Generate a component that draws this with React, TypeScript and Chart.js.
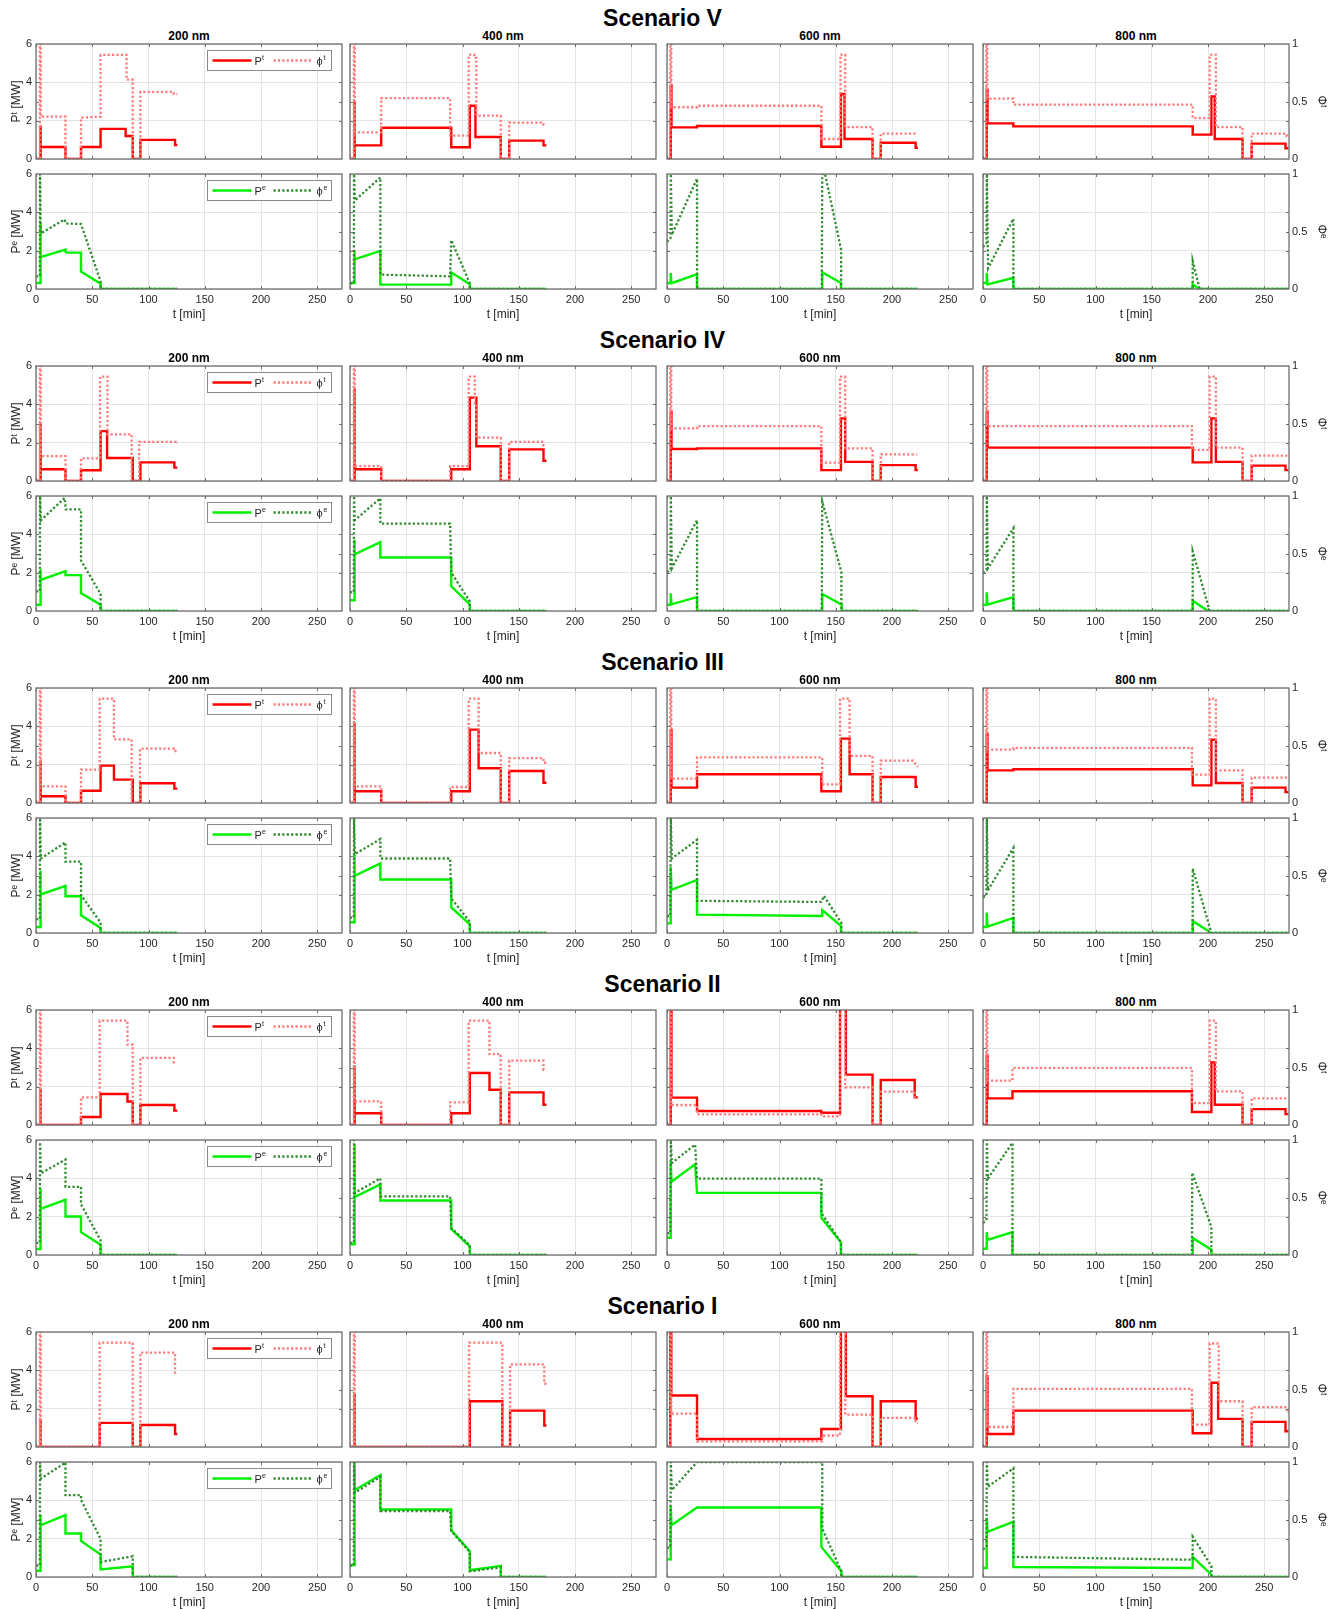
import React, { useEffect, useRef } from "react";
import { Chart, registerables } from "chart.js";
Chart.register(...registerables);

type XY = [number, number];

const FONT = "'Liberation Sans', Arial, Helvetica, sans-serif";
const SCENARIO_TITLES = ["Scenario V", "Scenario IV", "Scenario III", "Scenario II", "Scenario I"];
const COLUMN_TITLES = ["200 nm", "400 nm", "600 nm", "800 nm"];
const X_TICKS = [0, 50, 100, 150, 200, 250];
const P_TICKS = [0, 2, 4, 6];
const PHI_TICKS = [0, 0.5, 1];
const X_MAX = 272;

// ---------- Scenario V ----------
const V200_Pt: XY[] = [[0,0],[3.6,0],[3.6,1.75],[4.3,1.75],[4.3,0.63],[26.2,0.63],[26.2,0],[40,0],[40,0.63],[57.4,0.63],[57.4,1.57],[79.7,1.57],[79.7,1.2],[86,1.2],[86,0],[92.8,0],[92.8,1.0],[123.6,1.0],[123.6,0.73],[125.6,0.73]];
const V200_Ft: XY[] = [[0,0],[3.4,0],[3.4,1],[4.2,1],[4.2,0.368],[26.2,0.368],[26.2,0],[40,0],[40,0.36],[57.4,0.368],[57.4,0.905],[80.5,0.905],[80.5,0.69],[86,0.69],[86,0],[92.8,0],[92.8,0.583],[122.5,0.583],[122.5,0.565],[125.6,0.565]];
const V200_Pe: XY[] = [[0,0.31],[3.8,0.31],[3.8,3.4],[4.3,1.66],[26.2,2.06],[26.2,1.95],[27,1.9],[40,1.9],[40,0.91],[57.4,0.28],[57.4,0],[125.6,0]];
const V200_Fe: XY[] = [[0,0.11],[3.4,0.11],[3.6,1],[4.2,0.483],[25.4,0.605],[26.5,0.57],[40,0.565],[57.4,0.067],[57.4,0],[125.6,0]];

const V400_Pt: XY[] = [[0,0],[3.6,0],[3.6,3.0],[4.3,3.0],[4.3,0.71],[27.7,0.71],[27.7,1.63],[90,1.63],[90,0.61],[106.5,0.61],[106.5,2.78],[111.5,2.78],[111.5,1.15],[134,1.15],[134,0],[141.5,0],[141.5,0.96],[172,0.96],[172,0.71],[174.6,0.71]];
const V400_Ft: XY[] = [[0,0],[3.4,0],[3.4,1],[4.2,1],[4.2,0.232],[27.7,0.232],[27.7,0.53],[89,0.53],[89,0.203],[105.5,0.203],[105.5,0.907],[110.4,0.907],[110.4,0.88],[112.3,0.88],[112.3,0.377],[134,0.377],[134,0],[141.5,0],[141.5,0.316],[172,0.316],[172,0.3],[174.6,0.3]];
const V400_Pe: XY[] = [[0,0.31],[3.8,0.31],[3.8,2.02],[4.3,1.55],[27,1.99],[27,0.23],[90,0.23],[90,0.87],[106.5,0.25],[106.5,0],[174.6,0]];
const V400_Fe: XY[] = [[0,0.05],[3.4,0.05],[3.6,1],[4.3,0.77],[27,0.97],[27,0.125],[89,0.11],[90,0.425],[106.5,0.05],[106.5,0],[174.6,0]];

const V600_Pt: XY[] = [[0,0],[3.3,0],[3.3,3.83],[4,3.83],[4,1.65],[26.7,1.65],[26.7,1.72],[137.2,1.72],[137.2,0.64],[154.6,0.64],[154.6,3.39],[157.8,3.39],[157.8,1.04],[182.7,1.04],[182.7,0],[190,0],[190,0.85],[221,0.85],[221,0.59],[223,0.59]];
const V600_Ft: XY[] = [[0,0],[2.9,0],[2.9,1],[3.8,1],[3.8,0.45],[26.7,0.45],[26.7,0.463],[137.2,0.463],[137.2,0.174],[154.2,0.174],[154.2,0.907],[158.4,0.907],[158.4,0.278],[182.7,0.278],[182.7,0],[190,0],[190,0.22],[222,0.22]];
const V600_Pe: XY[] = [[0,0.31],[3.3,0.31],[3.3,0.84],[4,0.3],[26.7,0.77],[26.7,0],[138,0],[138,0.87],[154.6,0.31],[154.6,0],[223,0]];
const V600_Fe: XY[] = [[0,0.41],[3.1,0.44],[3.4,1],[4.3,0.47],[26.7,0.96],[26.7,0],[137.6,0],[138,1],[140.5,1],[154.8,0.34],[154.8,0],[223,0]];

const V800_Pt: XY[] = [[0,0],[3.3,0],[3.3,3.62],[4,3.62],[4,1.86],[27,1.86],[27,1.7],[186.4,1.7],[186.4,1.27],[203,1.27],[203,3.27],[206,3.27],[206,1.04],[230.7,1.04],[230.7,0],[238.8,0],[238.8,0.8],[268.9,0.8],[268.9,0.56],[271.5,0.56]];
const V800_Ft: XY[] = [[0,0],[2.9,0],[2.9,1],[3.8,1],[3.8,0.525],[27,0.525],[27,0.472],[186.4,0.472],[186.4,0.356],[201.5,0.356],[201.5,0.907],[207,0.907],[207,0.278],[230.7,0.278],[230.7,0],[238.8,0],[238.8,0.22],[270,0.22],[270,0.2],[271.5,0.2]];
const V800_Pe: XY[] = [[0,0.31],[3.3,0.31],[3.3,0.84],[4,0.24],[27,0.58],[27,0],[186.4,0],[186.4,0.24],[192,0],[271.5,0]];
const V800_Fe: XY[] = [[0,0.366],[3.1,0.4],[3.4,1],[4.5,0.18],[27,0.61],[27,0],[186.4,0],[186.4,0.245],[192.6,0],[271.5,0]];

// ---------- Scenario IV ----------
const IV200_Pt: XY[] = [[0,0],[3.6,0],[3.6,3.0],[4.3,3.0],[4.3,0.61],[26.2,0.61],[26.2,0],[40,0],[40,0.56],[57.4,0.56],[57.4,2.6],[63.2,2.6],[63.2,1.2],[86,1.2],[86,0],[92.8,0],[92.8,0.97],[123,0.97],[123,0.7],[125.6,0.7]];
const IV200_Ft: XY[] = [[0,0],[3.4,0],[3.4,1],[4.2,1],[4.2,0.217],[26.2,0.217],[26.2,0],[40,0],[40,0.197],[57,0.197],[57,0.907],[63.5,0.907],[63.5,0.406],[85,0.406],[85,0],[91.7,0],[91.7,0.34],[124,0.34],[124,0.325],[125.6,0.325]];
const IV200_Pe: XY[] = [[0,0.33],[3.8,0.33],[3.8,2.18],[4.3,1.62],[26.2,2.08],[26.2,1.87],[40,1.87],[40,0.94],[57.4,0.33],[57.4,0],[125.6,0]];
const IV200_Fe: XY[] = [[0,0.17],[3.4,0.17],[3.6,1],[4.3,0.788],[25.4,0.983],[26.5,0.883],[40,0.883],[40,0.44],[57.4,0.148],[57.4,0],[125.6,0]];

const IV400_Pt: XY[] = [[0,0],[3.6,0],[3.6,4.8],[4.3,4.8],[4.3,0.61],[27.7,0.61],[27.7,0],[90,0],[90,0.61],[106.5,0.61],[106.5,4.35],[112.3,4.35],[112.3,1.81],[134,1.81],[134,0],[141.5,0],[141.5,1.65],[172,1.65],[172,1.06],[174.6,1.06]];
const IV400_Ft: XY[] = [[0,0],[3.4,0],[3.4,1],[4.2,1],[4.2,0.13],[27.7,0.13],[27.7,0],[89,0],[89,0.13],[105.5,0.13],[105.5,0.907],[111,0.907],[111,0.68],[112.3,0.68],[112.3,0.377],[134,0.377],[134,0],[141.5,0],[141.5,0.34],[172,0.34],[172,0.31],[174.6,0.31]];
const IV400_Pe: XY[] = [[0,0.56],[3.8,0.56],[3.8,3.72],[4.3,2.95],[27,3.59],[27,2.79],[90,2.79],[90,1.29],[106.5,0.35],[106.5,0],[174.6,0]];
const IV400_Fe: XY[] = [[0,0.163],[3.4,0.163],[3.6,1],[4.3,0.79],[27,0.98],[27,0.76],[89,0.76],[90,0.335],[106.5,0.083],[106.5,0],[174.6,0]];

const IV600_Pt: XY[] = [[0,0],[3.3,0],[3.3,3.62],[4,3.62],[4,1.67],[26.7,1.67],[26.7,1.7],[137.2,1.7],[137.2,0.57],[154.6,0.57],[154.6,3.27],[158.4,3.27],[158.4,1.0],[182.7,1.0],[182.7,0],[190,0],[190,0.83],[221,0.83],[221,0.57],[223,0.57]];
const IV600_Ft: XY[] = [[0,0],[2.9,0],[2.9,1],[3.8,1],[3.8,0.458],[26.7,0.458],[26.7,0.478],[137.2,0.478],[137.2,0.16],[153.8,0.16],[153.8,0.907],[158.4,0.907],[158.4,0.284],[182.7,0.284],[182.7,0],[190,0],[190,0.232],[222,0.232]];
const IV600_Pe: XY[] = [[0,0.33],[3.3,0.33],[3.3,0.92],[4,0.35],[26.7,0.72],[26.7,0],[138,0],[138,0.89],[155.3,0.33],[155.3,0],[223,0]];
const IV600_Fe: XY[] = [[0,0.337],[3.1,0.36],[3.4,1],[4.3,0.37],[26.7,0.79],[26.7,0],[137.6,0],[138,0.953],[155,0.34],[155,0],[223,0]];

const IV800_Pt: XY[] = [[0,0],[3.3,0],[3.3,3.62],[4,3.62],[4,1.74],[186.4,1.74],[186.4,0.97],[203,0.97],[203,3.27],[207,3.27],[207,1.0],[230.7,1.0],[230.7,0],[238.8,0],[238.8,0.8],[268.9,0.8],[268.9,0.57],[271.5,0.57]];
const IV800_Ft: XY[] = [[0,0],[2.9,0],[2.9,1],[3.8,1],[3.8,0.478],[185.7,0.478],[185.7,0.27],[201.5,0.27],[201.5,0.907],[207,0.907],[207,0.29],[230.7,0.29],[230.7,0],[238.8,0],[238.8,0.22],[271.5,0.22]];
const IV800_Pe: XY[] = [[0,0.33],[3.3,0.33],[3.3,0.98],[4,0.33],[27,0.72],[27,0],[186.4,0],[186.4,0.54],[200,0],[271.5,0]];
const IV800_Fe: XY[] = [[0,0.33],[3.1,0.36],[3.4,1],[4.3,0.37],[27,0.72],[27,0],[186.4,0],[186.4,0.52],[201.5,0],[271.5,0]];

// ---------- Scenario III ----------
const III200_Pt: XY[] = [[0,0],[3.6,0],[3.6,2.22],[4.3,2.22],[4.3,0.35],[26.2,0.35],[26.2,0],[40,0],[40,0.64],[57.4,0.64],[57.4,1.95],[69.3,1.95],[69.3,1.22],[86,1.22],[86,0],[92.8,0],[92.8,1.03],[123,1.03],[123,0.75],[125.6,0.75]];
const III200_Ft: XY[] = [[0,0],[3.4,0],[3.4,1],[4.2,1],[4.2,0.145],[26.2,0.145],[26.2,0],[40,0],[40,0.29],[56.6,0.29],[56.6,0.907],[69.3,0.907],[69.3,0.553],[85,0.553],[85,0],[92.4,0],[92.4,0.472],[122.5,0.472],[122.5,0.452],[125.6,0.452]];
const III200_Pe: XY[] = [[0,0.31],[3.8,0.31],[3.8,3.24],[4.3,2.01],[26.2,2.46],[26.2,1.92],[40,1.92],[40,0.92],[57.4,0.26],[57.4,0],[125.6,0]];
const III200_Fe: XY[] = [[0,0.12],[3.4,0.12],[3.6,1],[4.3,0.648],[26.2,0.788],[26.2,0.62],[40,0.62],[40,0.33],[57.4,0.09],[57.4,0],[125.6,0]];

const III400_Pt: XY[] = [[0,0],[3.6,0],[3.6,4.23],[4.3,4.23],[4.3,0.61],[27.7,0.61],[27.7,0],[90,0],[90,0.61],[106.5,0.61],[106.5,3.83],[114.3,3.83],[114.3,1.81],[134,1.81],[134,0],[141.5,0],[141.5,1.67],[172,1.67],[172,1.06],[174.6,1.06]];
const III400_Ft: XY[] = [[0,0],[3.4,0],[3.4,1],[4.2,1],[4.2,0.145],[27.7,0.145],[27.7,0],[89,0],[89,0.139],[105.5,0.139],[105.5,0.907],[114.3,0.907],[114.3,0.435],[134,0.435],[134,0],[141.5,0],[141.5,0.39],[172,0.39],[172,0.35],[174.6,0.35]];
const III400_Pe: XY[] = [[0,0.56],[3.8,0.56],[3.8,4.1],[4.3,2.98],[27,3.63],[27,2.79],[90,2.79],[90,1.33],[106.5,0.45],[106.5,0],[174.6,0]];
const III400_Fe: XY[] = [[0,0.134],[3.4,0.134],[3.6,1],[4.3,0.686],[27,0.817],[27,0.648],[89,0.648],[90,0.3],[106.5,0.098],[106.5,0],[174.6,0]];

const III600_Pt: XY[] = [[0,0],[3.3,0],[3.3,3.8],[4,3.8],[4,0.8],[26.7,0.8],[26.7,1.5],[137.2,1.5],[137.2,0.61],[154.6,0.61],[154.6,3.36],[162.3,3.36],[162.3,1.5],[182.7,1.5],[182.7,0],[190,0],[190,1.36],[221,1.36],[221,0.85],[223,0.85]];
const III600_Ft: XY[] = [[0,0],[2.9,0],[2.9,1],[3.8,1],[3.8,0.212],[26.7,0.212],[26.7,0.397],[138,0.397],[138,0.162],[153.8,0.162],[153.8,0.907],[162.3,0.907],[162.3,0.409],[182.7,0.409],[182.7,0],[190,0],[190,0.368],[219,0.368],[223,0.313]];
const III600_Pe: XY[] = [[0,0.5],[3.3,0.5],[3.3,3.45],[4,2.25],[26.7,2.77],[26.7,0.96],[138,0.89],[138,1.19],[154.6,0.37],[154.6,0],[223,0]];
const III600_Fe: XY[] = [[0,0.148],[2.9,0.148],[3.4,1],[4.3,0.648],[26.7,0.81],[26.7,0.28],[137.2,0.27],[139.5,0.323],[155,0.087],[155,0],[223,0]];

const III800_Pt: XY[] = [[0,0],[3.3,0],[3.3,3.62],[4,3.62],[4,1.7],[27,1.7],[27,1.76],[186.4,1.76],[186.4,0.92],[203,0.92],[203,3.3],[207,3.3],[207,1.04],[230.7,1.04],[230.7,0],[238.8,0],[238.8,0.8],[268.9,0.8],[268.9,0.57],[271.5,0.57]];
const III800_Ft: XY[] = [[0,0],[2.9,0],[2.9,1],[3.8,1],[3.8,0.464],[27,0.464],[27,0.48],[185.7,0.48],[185.7,0.246],[201.5,0.246],[201.5,0.907],[207,0.907],[207,0.284],[230.7,0.284],[230.7,0],[238.8,0],[238.8,0.22],[271.5,0.22]];
const III800_Pe: XY[] = [[0,0.31],[3.3,0.31],[3.3,1.07],[4,0.33],[27,0.79],[27,0],[186.4,0],[186.4,0.63],[203,0],[271.5,0]];
const III800_Fe: XY[] = [[0,0.308],[3.1,0.33],[3.4,1],[4.3,0.37],[27,0.74],[27,0],[186.4,0],[186.4,0.56],[203,0],[271.5,0]];

// ---------- Scenario II ----------
const II200_Pt: XY[] = [[0,0],[3.6,0],[3.6,1.91],[4.3,1.91],[4.3,0],[40,0],[40,0.42],[57.4,0.42],[57.4,1.62],[81.3,1.62],[81.3,1.23],[86,1.23],[86,0],[92.8,0],[92.8,1.04],[123,1.04],[123,0.75],[125.6,0.75]];
const II200_Ft: XY[] = [[0,0],[3.4,0],[3.4,1],[4.2,1],[4.2,0],[40,0],[40,0.24],[56.6,0.24],[56.6,0.907],[81.3,0.907],[81.3,0.699],[86,0.699],[86,0],[92.8,0],[92.8,0.583],[122.5,0.583],[122.5,0.545],[125.6,0.545]];
const II200_Pe: XY[] = [[0,0.31],[3.8,0.31],[3.8,3.45],[4.3,2.41],[26.2,2.88],[26.2,2.01],[40,2.01],[40,1.19],[57.4,0.54],[57.4,0],[125.6,0]];
const II200_Fe: XY[] = [[0,0.105],[3.4,0.105],[3.6,0.98],[4.3,0.71],[26.2,0.83],[26.2,0.593],[40,0.593],[40,0.44],[57.4,0.128],[57.4,0],[125.6,0]];

const II400_Pt: XY[] = [[0,0],[3.6,0],[3.6,3.1],[4.3,3.1],[4.3,0.61],[27.7,0.61],[27.7,0],[90,0],[90,0.61],[106.5,0.61],[106.5,2.71],[124,2.71],[124,1.84],[134,1.84],[134,0],[141.5,0],[141.5,1.7],[172,1.7],[172,1.06],[174.6,1.06]];
const II400_Ft: XY[] = [[0,0],[3.4,0],[3.4,1],[4.2,1],[4.2,0.206],[27.7,0.206],[27.7,0],[89,0],[89,0.197],[105.5,0.197],[105.5,0.907],[124,0.907],[124,0.617],[134,0.617],[134,0],[141.5,0],[141.5,0.56],[172,0.56],[172,0.48],[174.6,0.48]];
const II400_Pe: XY[] = [[0,0.56],[3.8,0.56],[3.8,5.78],[4.3,3.02],[27,3.68],[27,2.84],[90,2.84],[90,1.36],[106.5,0.45],[106.5,0],[174.6,0]];
const II400_Fe: XY[] = [[0,0.105],[3.4,0.105],[3.6,1],[4.3,0.54],[27,0.667],[27,0.51],[89,0.51],[90,0.235],[106.5,0.084],[106.5,0],[174.6,0]];

const II600_Pt: XY[] = [[0,0],[3.3,0],[3.3,6.6],[4,6.6],[4,1.43],[26.7,1.43],[26.7,0.73],[137.2,0.73],[137.2,0.64],[153.8,0.64],[153.8,6.6],[159,6.6],[159,2.63],[182.7,2.63],[182.7,0],[190,0],[190,2.35],[220.2,2.35],[220.2,1.44],[223,1.44]];
const II600_Ft: XY[] = [[0,0],[2.9,0],[2.9,1.1],[3.8,1.1],[3.8,0.174],[26.7,0.174],[26.7,0.093],[137.2,0.093],[137.2,0.075],[153.8,0.075],[153.8,1.1],[158.4,1.1],[158.4,0.328],[182.7,0.328],[182.7,0],[190,0],[190,0.29],[220.2,0.29],[220.2,0.24],[223,0.24]];
const II600_Pe: XY[] = [[0,0.9],[3.3,0.9],[3.3,4.9],[4,3.82],[25,4.73],[26.7,3.24],[137.2,3.24],[137.2,1.94],[154.6,0.66],[154.6,0],[223,0]];
const II600_Fe: XY[] = [[0,0.19],[2.9,0.19],[3.4,1],[4.3,0.8],[25,0.96],[26.7,0.665],[137.2,0.665],[137.2,0.366],[154.6,0.11],[154.6,0],[223,0]];

const II800_Pt: XY[] = [[0,0],[3.3,0],[3.3,3.62],[4,3.62],[4,1.39],[26.2,1.39],[26.2,1.76],[185.7,1.76],[185.7,0.68],[203,0.68],[203,3.27],[206,3.27],[206,1.06],[230.7,1.06],[230.7,0],[238.8,0],[238.8,0.83],[268.9,0.83],[268.9,0.57],[271.5,0.57]];
const II800_Ft: XY[] = [[0,0],[2.9,0],[2.9,1],[3.8,1],[3.8,0.386],[26.2,0.386],[26.2,0.496],[185.7,0.496],[185.7,0.19],[201.5,0.19],[201.5,0.907],[207,0.907],[207,0.293],[230.7,0.293],[230.7,0],[238.8,0],[238.8,0.232],[271.5,0.232]];
const II800_Pe: XY[] = [[0,0.33],[3.3,0.33],[3.3,1.19],[4,0.79],[26.2,1.19],[26.2,0],[186.4,0],[186.4,0.89],[203,0.28],[203,0],[271.5,0]];
const II800_Fe: XY[] = [[0,0.28],[3.1,0.3],[3.4,1],[4.3,0.665],[26.2,0.975],[26.2,0],[185.7,0],[186,0.715],[203,0.245],[203,0],[271.5,0]];

// ---------- Scenario I ----------
const I200_Pt: XY[] = [[0,0],[3.6,0],[3.6,1.48],[4.3,1.48],[4.3,0],[56.6,0],[56.6,1.26],[86,1.26],[86,0],[92.8,0],[92.8,1.15],[123.6,1.15],[123.6,0.68],[125.6,0.68]];
const I200_Ft: XY[] = [[0,0],[3.4,0],[3.4,1],[4.2,1],[4.2,0],[56.6,0],[56.6,0.907],[86,0.907],[86,0],[92.8,0],[92.8,0.82],[123.6,0.82],[123.6,0.637],[125.6,0.637]];
const I200_Pe: XY[] = [[0,0.33],[3.8,0.33],[3.8,3.23],[4.3,2.7],[26.2,3.23],[26.2,2.27],[40,2.27],[40,1.88],[57.4,1.17],[57.4,0.4],[86,0.56],[86,0],[125.6,0]];
const I200_Fe: XY[] = [[0,0.1],[3.4,0.1],[3.6,1],[4.3,0.855],[26.2,0.995],[26.2,0.712],[40,0.712],[40,0.67],[57.4,0.333],[57.4,0.13],[86,0.18],[86,0],[125.6,0]];

const I400_Pt: XY[] = [[0,0],[3.6,0],[3.6,2.8],[4.3,2.8],[4.3,0],[106.5,0],[106.5,2.39],[135.4,2.39],[135.4,0],[142.3,0],[142.3,1.9],[172.7,1.9],[172.7,1.12],[174.6,1.12]];
const I400_Ft: XY[] = [[0,0],[3.4,0],[3.4,1],[4.2,1],[4.2,0],[105.8,0],[105.8,0.907],[135.4,0.907],[135.4,0],[142.3,0],[142.3,0.718],[172.7,0.718],[172.7,0.55],[174.6,0.55]];
const I400_Pe: XY[] = [[0,0.63],[3.8,0.63],[3.8,6.0],[4.3,4.53],[27,5.32],[27,3.52],[90,3.52],[90,2.44],[106.5,1.34],[106.5,0.35],[134,0.58],[134,0],[174.6,0]];
const I400_Fe: XY[] = [[0,0.1],[3.4,0.1],[3.6,1],[4.3,0.733],[27,0.872],[27,0.574],[89,0.574],[90,0.4],[106.5,0.217],[106.5,0.05],[134,0.083],[134,0],[174.6,0]];

const I600_Pt: XY[] = [[0,0],[2.9,0],[2.9,6.6],[3.8,6.6],[3.8,2.69],[26.7,2.69],[26.7,0.42],[137.2,0.42],[137.2,0.94],[154.6,0.94],[154.6,6.6],[159,6.6],[159,2.65],[182.7,2.65],[182.7,0],[190,0],[190,2.39],[221,2.39],[221,1.48],[223,1.48]];
const I600_Ft: XY[] = [[0,0],[2.9,0],[2.9,1.1],[3.8,1.1],[3.8,0.29],[26.7,0.29],[26.7,0.05],[138,0.05],[138,0.1],[153.8,0.1],[153.8,1.1],[158.4,1.1],[158.4,0.282],[182.7,0.282],[182.7,0],[190,0],[190,0.253],[221,0.253],[221,0.21],[223,0.21]];
const I600_Pe: XY[] = [[0,0.92],[3.3,0.92],[3.3,3.7],[4,2.7],[26.7,3.63],[137.2,3.63],[137.2,1.57],[155,0.3],[155,0],[223,0]];
const I600_Fe: XY[] = [[0,0.256],[2.9,0.256],[3.4,1],[4.3,0.755],[26.7,1.0],[138,1.0],[138,0.42],[155,0.05],[155,0],[223,0]];

const I800_Pt: XY[] = [[0,0],[3.3,0],[3.3,3.7],[4,3.7],[4,0.68],[27,0.68],[27,1.9],[186.4,1.9],[186.4,0.72],[203,0.72],[203,3.35],[209,3.35],[209,1.47],[230.7,1.47],[230.7,0],[238.8,0],[238.8,1.31],[268.9,1.31],[268.9,0.82],[271.5,0.82]];
const I800_Ft: XY[] = [[0,0],[2.9,0],[2.9,1],[3.8,1],[3.8,0.174],[27,0.174],[27,0.506],[185.7,0.506],[185.7,0.195],[201.5,0.195],[201.5,0.9],[209.5,0.9],[209.5,0.398],[230.7,0.398],[230.7,0],[238.8,0],[238.8,0.346],[270,0.346],[270,0.3],[271.5,0.3]];
const I800_Pe: XY[] = [[0,0.47],[3.3,0.47],[3.3,3.09],[4,2.36],[27,2.88],[27,0.52],[186.4,0.47],[186.4,1.05],[203,0.12],[203,0],[271.5,0]];
const I800_Fe: XY[] = [[0,0.24],[3.1,0.26],[3.4,1],[4.3,0.785],[27,0.945],[27,0.175],[186.4,0.15],[186.4,0.35],[203,0.096],[203,0],[271.5,0]];

type Col = { Pt: XY[]; Ft: XY[]; Pe: XY[]; Fe: XY[] };
const SCENARIOS: Col[][] = [
  [
    { Pt: V200_Pt, Ft: V200_Ft, Pe: V200_Pe, Fe: V200_Fe },
    { Pt: V400_Pt, Ft: V400_Ft, Pe: V400_Pe, Fe: V400_Fe },
    { Pt: V600_Pt, Ft: V600_Ft, Pe: V600_Pe, Fe: V600_Fe },
    { Pt: V800_Pt, Ft: V800_Ft, Pe: V800_Pe, Fe: V800_Fe },
  ],
  [
    { Pt: IV200_Pt, Ft: IV200_Ft, Pe: IV200_Pe, Fe: IV200_Fe },
    { Pt: IV400_Pt, Ft: IV400_Ft, Pe: IV400_Pe, Fe: IV400_Fe },
    { Pt: IV600_Pt, Ft: IV600_Ft, Pe: IV600_Pe, Fe: IV600_Fe },
    { Pt: IV800_Pt, Ft: IV800_Ft, Pe: IV800_Pe, Fe: IV800_Fe },
  ],
  [
    { Pt: III200_Pt, Ft: III200_Ft, Pe: III200_Pe, Fe: III200_Fe },
    { Pt: III400_Pt, Ft: III400_Ft, Pe: III400_Pe, Fe: III400_Fe },
    { Pt: III600_Pt, Ft: III600_Ft, Pe: III600_Pe, Fe: III600_Fe },
    { Pt: III800_Pt, Ft: III800_Ft, Pe: III800_Pe, Fe: III800_Fe },
  ],
  [
    { Pt: II200_Pt, Ft: II200_Ft, Pe: II200_Pe, Fe: II200_Fe },
    { Pt: II400_Pt, Ft: II400_Ft, Pe: II400_Pe, Fe: II400_Fe },
    { Pt: II600_Pt, Ft: II600_Ft, Pe: II600_Pe, Fe: II600_Fe },
    { Pt: II800_Pt, Ft: II800_Ft, Pe: II800_Pe, Fe: II800_Fe },
  ],
  [
    { Pt: I200_Pt, Ft: I200_Ft, Pe: I200_Pe, Fe: I200_Fe },
    { Pt: I400_Pt, Ft: I400_Ft, Pe: I400_Pe, Fe: I400_Fe },
    { Pt: I600_Pt, Ft: I600_Ft, Pe: I600_Pe, Fe: I600_Fe },
    { Pt: I800_Pt, Ft: I800_Ft, Pe: I800_Pe, Fe: I800_Fe },
  ],
];

// layout (pixels)
const COL_LEFT = [36, 350, 667, 983];
const PLOT_W = 306;
const SCEN_TOP = [44, 366, 688, 1010, 1332];
const PLOT_H = 115;
const ROW_OFFSET = 130;

const COLORS = {
  Pt: "#ff0000",
  Ft: "#ff7a7a",
  Pe: "#00f000",
  Fe: "#2e8b2e",
};
const FRAME = "#6e6e6e";
const GRID = "#e4e4e4";
const TEXT = "#262626";

const zeroPad = (s: any) => {
  s.paddingTop = 0;
  s.paddingBottom = 0;
  s.paddingLeft = 0;
  s.paddingRight = 0;
};

type PanelProps = { col: number; row: number; left: number; top: number; solid: XY[]; dotted: XY[] };

function Panel({ col, row, left, top, solid, dotted }: PanelProps) {
  const ref = useRef<HTMLCanvasElement | null>(null);
  const L = col === 0 ? 36 : 4;
  const R = col === 3 ? 56 : 4;
  const T = 9;
  const B = row === 1 ? 34 : 9;
  const W = PLOT_W + L + R;
  const H = PLOT_H + T + B;
  const sup = row === 0 ? "t" : "e";
  const solidColor = row === 0 ? COLORS.Pt : COLORS.Pe;
  const dotColor = row === 0 ? COLORS.Ft : COLORS.Fe;

  useEffect(() => {
    const canvas = ref.current;
    if (!canvas) return;
    const framePlugin = {
      id: "frame" + col + row,
      afterDraw(chart: any) {
        const { ctx, chartArea: a } = chart;
        const xs = chart.scales.x;
        const ys = chart.scales.y;
        ctx.save();
        // inward tick marks
        ctx.strokeStyle = FRAME;
        ctx.lineWidth = 1;
        ctx.beginPath();
        for (const v of X_TICKS) {
          const px = Math.round(xs.getPixelForValue(v)) + 0.5;
          ctx.moveTo(px, a.bottom);
          ctx.lineTo(px, a.bottom - 3);
          ctx.moveTo(px, a.top);
          ctx.lineTo(px, a.top + 3);
        }
        for (const v of [2, 3, 4]) {
          const py = Math.round(ys.getPixelForValue(v)) + 0.5;
          ctx.moveTo(a.left, py);
          ctx.lineTo(a.left + 3, py);
          ctx.moveTo(a.right, py);
          ctx.lineTo(a.right - 3, py);
        }
        ctx.stroke();
        // box
        ctx.lineWidth = 1.3;
        ctx.strokeRect(a.left, a.top, a.right - a.left, a.bottom - a.top);
        // legend (first column only)
        if (col === 0) {
          const bx = Math.round(a.left + 171) + 0.5;
          const by = Math.round(a.top + 6) + 0.5;
          const bw = 124;
          const bh = 20;
          ctx.fillStyle = "#ffffff";
          ctx.fillRect(bx, by, bw, bh);
          ctx.strokeStyle = "#8a8a8a";
          ctx.lineWidth = 1;
          ctx.strokeRect(bx, by, bw, bh);
          const cy = by + bh / 2;
          ctx.lineWidth = 2.4;
          ctx.strokeStyle = solidColor;
          ctx.beginPath();
          ctx.moveTo(bx + 5, cy);
          ctx.lineTo(bx + 44, cy);
          ctx.stroke();
          ctx.strokeStyle = dotColor;
          ctx.setLineDash([2.2, 2.2]);
          ctx.beginPath();
          ctx.moveTo(bx + 66, cy);
          ctx.lineTo(bx + 104, cy);
          ctx.stroke();
          ctx.setLineDash([]);
          ctx.fillStyle = TEXT;
          ctx.textBaseline = "alphabetic";
          ctx.textAlign = "left";
          ctx.font = `11px ${FONT}`;
          ctx.fillText("P", bx + 47, cy + 4.5);
          ctx.fillText("\u03d5", bx + 109, cy + 4.5);
          ctx.font = `7px ${FONT}`;
          ctx.fillText(sup, bx + 54.5, cy - 0.5);
          ctx.fillText(sup, bx + 116, cy - 0.5);
        }
        ctx.restore();
      },
    };

    const toPts = (arr: XY[]) => arr.map(([x, y]) => ({ x, y }));
    const tickFont = { family: FONT, size: 11 };
    const titleFont = { family: FONT, size: 12 };

    const chart = new Chart(canvas, {
      type: "line",
      data: {
        datasets: [
          {
            data: toPts(dotted),
            yAxisID: "y1",
            borderColor: dotColor,
            borderWidth: 2.3,
            borderDash: [2.2, 2.2],
            pointRadius: 0,
            tension: 0,
            fill: false,
            order: 0,
          },
          {
            data: toPts(solid),
            yAxisID: "y",
            borderColor: solidColor,
            borderWidth: 2.4,
            pointRadius: 0,
            tension: 0,
            fill: false,
            order: 1,
          },
        ],
      } as any,
      options: {
        responsive: false,
        maintainAspectRatio: false,
        animation: false,
        events: [],
        devicePixelRatio: 1,
        layout: { padding: { top: T, bottom: 0, left: 0, right: 0 } },
        plugins: {
          legend: { display: false },
          tooltip: { enabled: false },
          title: { display: false },
        },
        scales: {
          x: {
            type: "linear",
            min: 0,
            max: X_MAX,
            afterBuildTicks: (s: any) => {
              s.ticks = X_TICKS.map((v) => ({ value: v }));
            },
            afterFit: (s: any) => {
              s.height = B;
              zeroPad(s);
            },
            ticks: {
              display: row === 1,
              font: tickFont,
              color: TEXT,
              padding: 4,
              maxRotation: 0,
              autoSkip: false,
              callback: (v: any) => String(v),
            },
            grid: { color: GRID, drawTicks: false, lineWidth: 1 },
            border: { display: false },
            title: {
              display: row === 1,
              text: "t [min]",
              font: titleFont,
              color: TEXT,
              padding: { top: 0, bottom: 1 },
            },
          },
          y: {
            type: "linear",
            position: "left",
            min: 0,
            max: 6,
            afterBuildTicks: (s: any) => {
              s.ticks = P_TICKS.map((v) => ({ value: v }));
            },
            afterFit: (s: any) => {
              s.width = L;
              zeroPad(s);
            },
            ticks: {
              display: col === 0,
              font: tickFont,
              color: TEXT,
              padding: 4,
              callback: (v: any) => String(v),
            },
            grid: { color: GRID, drawTicks: false, lineWidth: 1 },
            border: { display: false },
            title: {
              display: col === 0,
              text: row === 0 ? "P\u1d57 [MW]" : "P\u1d49 [MW]",
              font: titleFont,
              color: TEXT,
              padding: { top: 9, bottom: 0 },
            },
          },
          y1: {
            type: "linear",
            position: "right",
            min: 0,
            max: 1,
            afterBuildTicks: (s: any) => {
              s.ticks = PHI_TICKS.map((v) => ({ value: v }));
            },
            afterFit: (s: any) => {
              s.width = R;
              zeroPad(s);
            },
            ticks: {
              display: col === 3,
              font: tickFont,
              color: TEXT,
              padding: 3,
              callback: (v: any) => String(v),
            },
            grid: { display: false, drawTicks: false },
            border: { display: false },
            title: {
              display: col === 3,
              text: row === 0 ? "\u03a6\u1d57" : "\u03a6\u1d49",
              font: titleFont,
              color: TEXT,
              padding: { top: 16, bottom: 0 },
            },
          },
        },
      } as any,
      plugins: [framePlugin],
    });
    return () => chart.destroy();
  }, [col, row, solid, dotted]);

  return (
    <canvas
      ref={ref}
      width={W}
      height={H}
      style={{ position: "absolute", left: left - L, top: top - T, width: W, height: H }}
    />
  );
}

export default function App() {
  const items: React.ReactNode[] = [];
  SCENARIOS.forEach((cols, si) => {
    const top = SCEN_TOP[si];
    items.push(
      <div
        key={"st" + si}
        style={{
          position: "absolute",
          left: COL_LEFT[0],
          width: COL_LEFT[3] + PLOT_W - COL_LEFT[0],
          top: top - 26 - 15,
          height: 30,
          lineHeight: "30px",
          textAlign: "center",
          fontWeight: "bold",
          fontSize: 23,
          color: "#000",
        }}
      >
        {SCENARIO_TITLES[si]}
      </div>
    );
    cols.forEach((c, ci) => {
      items.push(
        <div
          key={"ct" + si + "-" + ci}
          style={{
            position: "absolute",
            left: COL_LEFT[ci],
            width: PLOT_W,
            top: top - 8 - 8,
            height: 16,
            lineHeight: "16px",
            textAlign: "center",
            fontWeight: "bold",
            fontSize: 12,
            color: "#000",
          }}
        >
          {COLUMN_TITLES[ci]}
        </div>
      );
      items.push(
        <Panel key={"pt" + si + "-" + ci} col={ci} row={0} left={COL_LEFT[ci]} top={top} solid={c.Pt} dotted={c.Ft} />
      );
      items.push(
        <Panel key={"pe" + si + "-" + ci} col={ci} row={1} left={COL_LEFT[ci]} top={top + ROW_OFFSET} solid={c.Pe} dotted={c.Fe} />
      );
    });
  });
  return (
    <div
      style={{
        position: "absolute",
        left: 0,
        top: 0,
        width: 1344,
        height: 1609,
        overflow: "hidden",
        background: "#ffffff",
        fontFamily: FONT,
      }}
    >
      {items}
    </div>
  );
}
